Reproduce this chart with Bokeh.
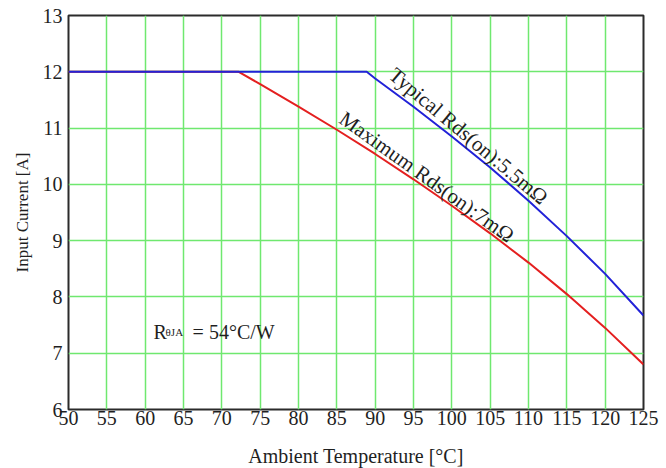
from bokeh.plotting import figure
from bokeh.models import ColumnDataSource, Range1d, FixedTicker
from bokeh.core.properties import value
from bokeh.embed import file_html
from bokeh.resources import INLINE

# Derating curves: input current vs ambient temperature
temp_typ = [50, 88.9, 90, 95, 100, 105, 110, 115, 120, 125]
cur_typ = [12, 12, 11.88, 11.38, 10.85, 10.30, 9.71, 9.08, 8.41, 7.67]

temp_max = [50, 72.2, 75, 80, 85, 90, 95, 100, 105, 110, 115, 120, 125]
cur_max = [12, 12, 11.78, 11.38, 10.97, 10.54, 10.09, 9.62, 9.13, 8.61, 8.05, 7.45, 6.80]

x_ticks = [50, 55, 60, 65, 70, 75, 80, 85, 90, 95, 100, 105, 110, 115, 120, 125]
y_ticks = [6, 7, 8, 9, 10, 11, 12, 13]

curve_labels = ["Typical Rds(on):5.5mΩ", "Maximum Rds(on):7mΩ"]
label_temp = [92.2, 85.65]
label_cur = [12.0, 11.21]
label_angle = [-0.698, -0.62]

FONT = "Liberation Serif"
GRID = "#6fe86f"
BLUE = "#2222d8"
RED = "#e42020"
INK = "#1f1f1f"

p = figure(frame_width=575, frame_height=394,
           x_range=Range1d(50, 125), y_range=Range1d(6, 13),
           output_backend="svg", toolbar_location=None,
           min_border_left=68, min_border_right=23,
           min_border_top=15, min_border_bottom=59,
           background_fill_color="white", border_fill_color="white")

p.xaxis.ticker = FixedTicker(ticks=x_ticks)
p.yaxis.ticker = FixedTicker(ticks=y_ticks)
p.xgrid.ticker = FixedTicker(ticks=x_ticks)
p.ygrid.ticker = FixedTicker(ticks=y_ticks)
for g in (p.xgrid, p.ygrid):
    g.grid_line_color = GRID
    g.grid_line_width = 1.5
    g.grid_line_alpha = 1.0

p.outline_line_color = "#2b2b2b"
p.outline_line_width = 2
p.outline_line_alpha = 1.0

for ax in (p.xaxis, p.yaxis):
    ax.axis_line_color = None
    ax.major_tick_line_color = None
    ax.minor_tick_line_color = None
    ax.major_tick_in = 0
    ax.major_tick_out = 0
    ax.major_label_text_font = FONT
    ax.major_label_text_font_size = "20px"
    ax.major_label_text_color = INK
    ax.axis_label_text_font = FONT
    ax.axis_label_text_font_style = "normal"
    ax.axis_label_text_color = INK

p.xaxis.axis_label = "Ambient Temperature [°C]"
p.yaxis.axis_label = "Input Current [A]"
p.xaxis.axis_label_text_font_size = "20px"
p.yaxis.axis_label_text_font_size = "17px"
p.xaxis.major_label_standoff = 1
p.xaxis.axis_label_standoff = 17
p.yaxis.major_label_standoff = 6
p.yaxis.axis_label_standoff = 8

# red first so the blue plateau sits on top
p.line(temp_max, cur_max, line_color=RED, line_width=2)
p.line(temp_typ, cur_typ, line_color=BLUE, line_width=2)

src = ColumnDataSource(dict(x=label_temp, y=label_cur, t=curve_labels, a=label_angle))
p.text(x="x", y="y", text="t", angle="a", source=src,
       text_font=value(FONT), text_font_size="21px", text_color=INK,
       text_align="left", text_baseline="alphabetic")

# Thermal resistance note: R with a small θJA subscript
note_x = [61.1]
note_y = [7.37]
p.text(x=note_x, y=note_y, text=["R"], text_font=value(FONT), text_font_size="20px",
       text_color=INK, text_baseline="alphabetic")
p.text(x=note_x, y=note_y, text=["θJA"], x_offset=12, text_font=value(FONT),
       text_font_size="11px", text_color=INK, text_baseline="alphabetic")
p.text(x=note_x, y=note_y, text=["= 54°C/W"], x_offset=39, text_font=value(FONT),
       text_font_size="20px", text_color=INK, text_baseline="alphabetic")

open("out.html", "w").write(file_html(p, INLINE))
